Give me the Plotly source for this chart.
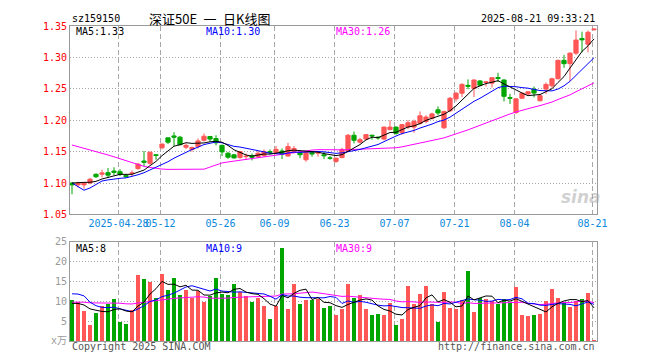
import plotly.graph_objects as go
import pandas as pd

# ---------------- data ----------------
open_ = [1.100, 1.097, 1.097, 1.100, 1.114, 1.114, 1.1165, 1.119, 1.118, 1.112,
         1.115, 1.123, 1.135, 1.1315, 1.145, 1.156, 1.172, 1.175, 1.173, 1.157,
         1.1535, 1.158, 1.168, 1.174, 1.1708, 1.160, 1.1474, 1.1448, 1.1406, 1.142,
         1.143, 1.142, 1.1437, 1.150, 1.1485, 1.151, 1.143, 1.1495, 1.1485, 1.137,
         1.149, 1.1475, 1.145, 1.140, 1.1344, 1.1405, 1.151, 1.176, 1.165, 1.170,
         1.176, 1.173, 1.170, 1.185, 1.189, 1.180, 1.189, 1.189, 1.195, 1.198,
         1.203, 1.2165, 1.188, 1.215, 1.234, 1.243, 1.2555, 1.2505, 1.2625, 1.260,
         1.259, 1.268, 1.264, 1.236, 1.212, 1.235, 1.2417, 1.2495, 1.231, 1.2495,
         1.2547, 1.266, 1.2953, 1.290, 1.3068, 1.330, 1.321, 1.344]
high = [1.101, 1.102, 1.101, 1.108, 1.115, 1.121, 1.124, 1.125, 1.122, 1.114,
        1.120, 1.132, 1.151, 1.150, 1.146, 1.163, 1.172, 1.181, 1.175, 1.163,
        1.158, 1.171, 1.179, 1.175, 1.176, 1.161, 1.1495, 1.146, 1.151, 1.147,
        1.147, 1.151, 1.1536, 1.1536, 1.159, 1.155, 1.164, 1.159, 1.1526, 1.150,
        1.151, 1.151, 1.150, 1.143, 1.140, 1.156, 1.178, 1.182, 1.172, 1.178,
        1.177, 1.174, 1.190, 1.200, 1.190, 1.194, 1.200, 1.201, 1.214, 1.208,
        1.212, 1.222, 1.215, 1.237, 1.245, 1.259, 1.265, 1.265, 1.264, 1.2625,
        1.268, 1.2755, 1.265, 1.242, 1.235, 1.244, 1.246, 1.2537, 1.2417, 1.260,
        1.2677, 1.2964, 1.304, 1.308, 1.343, 1.341, 1.343, 1.346]
low = [1.082, 1.093, 1.091, 1.098, 1.108, 1.109, 1.108, 1.112, 1.111, 1.108,
       1.111, 1.121, 1.126, 1.129, 1.137, 1.154, 1.162, 1.159, 1.160, 1.154,
       1.150, 1.155, 1.166, 1.1656, 1.160, 1.143, 1.1385, 1.139, 1.1385, 1.137,
       1.136, 1.1395, 1.142, 1.146, 1.146, 1.138, 1.142, 1.147, 1.1395, 1.134,
       1.142, 1.142, 1.138, 1.137, 1.132, 1.1395, 1.150, 1.163, 1.163, 1.168,
       1.169, 1.169, 1.168, 1.184, 1.177, 1.177, 1.186, 1.180, 1.193, 1.195,
       1.201, 1.208, 1.186, 1.213, 1.230, 1.237, 1.2495, 1.237, 1.2537, 1.2537,
       1.252, 1.261, 1.230, 1.226, 1.2105, 1.234, 1.240, 1.2365, 1.230, 1.2417,
       1.252, 1.265, 1.2833, 1.2625, 1.304, 1.308, 1.308, 1.343]
close = [1.097, 1.100, 1.100, 1.106, 1.110, 1.116, 1.1125, 1.117, 1.1135, 1.110,
         1.116, 1.130, 1.133, 1.149, 1.144, 1.162, 1.165, 1.173, 1.161, 1.160,
         1.1565, 1.167, 1.1745, 1.170, 1.164, 1.1495, 1.1411, 1.140, 1.150, 1.1425,
         1.141, 1.1474, 1.150, 1.149, 1.1536, 1.146, 1.158, 1.155, 1.145, 1.150,
         1.146, 1.1495, 1.1435, 1.1395, 1.1396, 1.1535, 1.176, 1.168, 1.169, 1.177,
         1.175, 1.172, 1.189, 1.189, 1.179, 1.193, 1.196, 1.198, 1.207, 1.205,
         1.210, 1.2115, 1.214, 1.235, 1.243, 1.257, 1.254, 1.264, 1.2557, 1.261,
         1.2677, 1.2665, 1.238, 1.235, 1.234, 1.243, 1.2453, 1.2432, 1.239, 1.257,
         1.266, 1.2953, 1.290, 1.3068, 1.3276, 1.328, 1.340, 1.345]
volume = [10.3, 9.9, 7.5, 4.1, 7.0, 8.8, 9.4, 10.5, 4.9, 4.2,
          7.8, 16.6, 15.6, 15.0, 11.0, 17.0, 12.8, 15.9, 11.6, 13.0,
          10.9, 12.6, 9.9, 11.4, 15.9, 11.9, 11.7, 14.3, 12.4, 11.4,
          9.9, 10.9, 8.8, 5.5, 8.8, 23.4, 8.0, 14.4, 9.3, 10.3,
          10.3, 10.6, 8.3, 8.8, 6.6, 8.1, 14.3, 11.0, 11.6, 8.1,
          6.6, 6.9, 6.6, 9.6, 4.1, 5.6, 13.8, 9.4, 11.8, 13.8,
          9.4, 4.9, 12.3, 8.4, 8.1, 10.4, 17.6, 7.4, 10.8, 10.6,
          10.1, 9.4, 10.6, 9.6, 13.6, 6.6, 6.4, 6.6, 6.9, 10.1,
          13.1, 10.8, 9.6, 8.6, 10.1, 10.6, 12.1, 0.4]

# history before the window (estimated so the moving averages start where the picture shows)
prior_close = [1.175, 1.178, 1.182, 1.190, 1.195, 1.200, 1.205, 1.210, 1.215, 1.215,
               1.212, 1.208, 1.200, 1.195, 1.188, 1.180, 1.172, 1.168, 1.165, 1.162,
               1.160, 1.155, 1.070, 1.060, 1.055, 1.095, 1.100, 1.105, 1.103]
prior_volume = [9.0, 8.5, 9.2, 8.0, 8.8, 9.5, 8.2, 8.6, 9.0, 8.8,
                9.5, 8.8, 9.2, 8.4, 8.0, 8.6, 9.0, 8.5, 8.2, 9.0,
                10.5, 12.0, 20.0, 16.0, 13.0, 10.0, 9.5, 9.0, 8.7]

tick_idx = [8, 15, 25, 34, 44, 54, 64, 74, 87]
tick_labels = ["2025-04-28", "05-12", "05-26", "06-09", "06-23", "07-07", "07-21", "08-04", "08-21"]
price_ticks = [1.05, 1.10, 1.15, 1.20, 1.25, 1.30, 1.35]
vol_ticks = [0, 5, 10, 15, 20, 25]
vol_tick_labels = ["x万", "5", "10", "15", "20", "25"]
code = "sz159150"
title = "深证50E\u2002一\u2002日K线图"
stamp = "2025-08-21 09:33:21"

# ---------------- derived ----------------
n = len(close)
idx = list(range(n))
cs = pd.Series(prior_close + close)
vs = pd.Series(prior_volume + volume)
k = len(prior_close)
pma = {w: cs.rolling(w).mean().iloc[k:].tolist() for w in (5, 10, 30)}
vma = {w: vs.rolling(w).mean().iloc[k:].tolist() for w in (5, 10, 30)}

RED = "#ff5656"
GREEN = "#00a600"
MA_COL = {5: "#000000", 10: "#0000ff", 30: "#ff00ff"}
MONO = "DejaVu Sans Mono"
CJK = "Noto Sans CJK SC"

bar_cols = [RED if c >= o else GREEN for o, c in zip(open_, close)]

# pixel geometry (screen pixels; the page body adds an 8px offset)
OFF = 8
W, H = 660, 360
L, R, T, B = 70 - OFF, 597 - OFF, 20 - OFF, 341 - OFF
def px(x):
    return (x - OFF - L) / (R - L)
def py(y):
    return (B - (y - OFF)) / (B - T)

fig = go.Figure()
fig.add_trace(go.Candlestick(
    x=idx, open=open_, high=high, low=low, close=close,
    increasing=dict(line=dict(color=RED, width=1), fillcolor=RED),
    decreasing=dict(line=dict(color=GREEN, width=1), fillcolor=GREEN),
    whiskerwidth=0, hoverinfo="skip", xaxis="x", yaxis="y", showlegend=False))
for w in (30, 10, 5):
    fig.add_trace(go.Scatter(x=idx, y=pma[w], mode="lines",
                             line=dict(color=MA_COL[w], width=1),
                             xaxis="x", yaxis="y", showlegend=False, hoverinfo="skip"))

fig.add_trace(go.Bar(x=idx, y=volume, marker=dict(color=bar_cols, line=dict(width=0)),
                     width=0.78, xaxis="x2", yaxis="y2", showlegend=False, hoverinfo="skip"))
for w in (30, 10, 5):
    fig.add_trace(go.Scatter(x=idx, y=vma[w], mode="lines",
                             line=dict(color=MA_COL[w], width=1),
                             xaxis="x2", yaxis="y2", showlegend=False, hoverinfo="skip"))

xr = [-0.333, 87.5]
grid_x = [i - 0.25 for i in tick_idx]
axis_common = dict(showline=True, linecolor="#9a9a9a", linewidth=1, mirror=True,
                   zeroline=False, ticks="")

fig.update_layout(
    width=W, height=H,
    margin=dict(l=L, r=W - R, t=T, b=H - B),
    paper_bgcolor="white", plot_bgcolor="white",
    boxgap=0.3, boxgroupgap=0,
    bargap=0,
    xaxis=dict(domain=[0, 1], range=xr, anchor="y", tickmode="array",
               tickvals=grid_x, ticktext=tick_labels, tickangle=0,
               tickfont=dict(family=MONO, size=10, color="#0a88dd"),
               showgrid=True, gridcolor="#a8a8a8", griddash="5px,3px", gridwidth=1,
               rangeslider=dict(visible=False), **axis_common),
    yaxis=dict(domain=[py(212), 1], range=[1.05, 1.35], tickmode="array",
               tickvals=price_ticks, ticktext=[f"{v:.2f}" for v in price_ticks],
               tickfont=dict(family=MONO, size=10, color="#ff0000"),
               showgrid=True, gridcolor="#a8a8a8", griddash="1px,2px", gridwidth=1,
               **axis_common),
    xaxis2=dict(domain=[0, 1], range=xr, anchor="y2", matches="x", tickmode="array",
                tickvals=grid_x, showticklabels=False,
                showgrid=True, gridcolor="#a8a8a8", griddash="5px,3px", gridwidth=1,
                **axis_common),
    yaxis2=dict(domain=[0, py(240)], range=[0, 25], tickmode="array",
                tickvals=vol_ticks, ticktext=vol_tick_labels,
                tickfont=dict(family=MONO + ", " + CJK, size=10, color="#9a9a9a"),
                showgrid=True, gridcolor="#a8a8a8", griddash="1px,2px", gridwidth=1,
                **axis_common),
)

def note(text, x, y, color="#000000", anchor="left", size=10, family=MONO):
    fig.add_annotation(text=text, xref="paper", yref="paper", x=px(x), y=py(y),
                       xanchor=anchor, yanchor="middle", showarrow=False,
                       font=dict(family=family, size=size, color=color))

note(code, 70, 12)
note(title, 210, 12, anchor="center", size=13, family=CJK)
note(stamp, 597, 12, anchor="right")
note(f"MA5:{pma[5][-1]:.2f}", 74, 26, MA_COL[5])
note(f"MA10:{pma[10][-1]:.2f}", 204, 26, MA_COL[10])
note(f"MA30:{pma[30][-1]:.2f}", 334, 26, MA_COL[30])
note(f"MA5:{int(vma[5][-1])}", 74, 247, MA_COL[5])
note(f"MA10:{int(vma[10][-1])}", 204, 247, MA_COL[10])
note(f"MA30:{int(vma[30][-1])}", 334, 247, MA_COL[30])
note("Copyright 2025 SINA.COM", 70, 347, "#555555")
note("http://finance.sina.com.cn", 597, 347, "#555555", anchor="right")
fig.add_annotation(text="<b><i>sina</i></b>", xref="paper", yref="paper",
                   x=px(581), y=py(194), xanchor="center", yanchor="middle",
                   showarrow=False, font=dict(family="DejaVu Sans", size=17,
                                              color="rgba(170,170,170,0.55)"))

fig.write_html("out.html")
